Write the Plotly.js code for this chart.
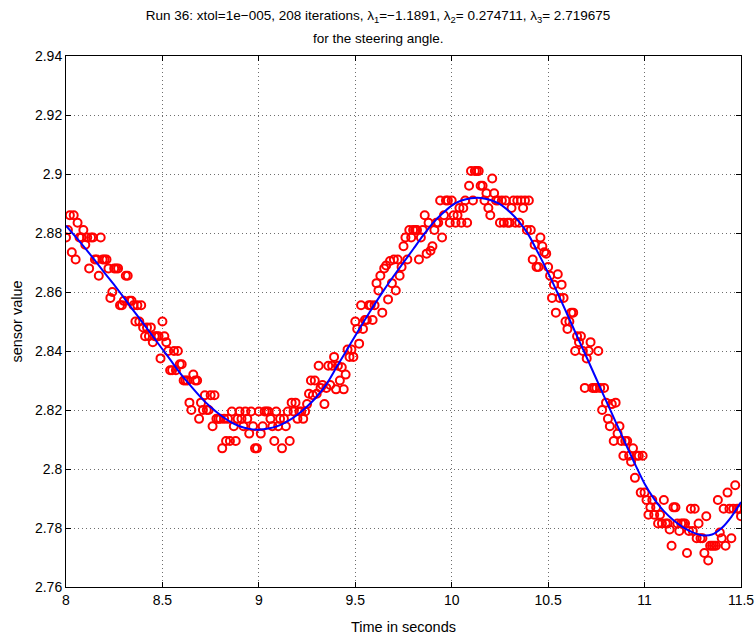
<!DOCTYPE html>
<html>
<head>
<meta charset="utf-8">
<script src="https://cdn.plot.ly/plotly-3.0.1.min.js"></script>
<style>
  html, body { margin: 0; padding: 0; background: #ffffff; }
  #chart { width: 756px; height: 637px; }
</style>
</head>
<body>
<div id="chart"></div>
<script>
// ---- Data ----
const titleLine1 = "Run 36: xtol=1e\u2212005, 208 iterations, \u03bb<sub>1</sub>=\u22121.1891, \u03bb<sub>2</sub>= 0.274711, \u03bb<sub>3</sub>= 2.719675";
const titleLine2 = "for the steering angle.";
const xLabel = "Time in seconds";
const yLabel = "sensor value";

// measured sensor samples (time in s)
const sensorTime = [
  8.00,8.01,8.02,8.03,8.04,8.05,8.06,8.07,8.08,8.09,
  8.10,8.11,8.12,8.13,8.14,8.15,8.16,8.17,8.18,8.19,
  8.20,8.21,8.22,8.23,8.24,8.25,8.26,8.27,8.28,8.29,
  8.30,8.31,8.32,8.33,8.34,8.35,8.36,8.37,8.38,8.39,
  8.40,8.41,8.42,8.43,8.44,8.45,8.46,8.47,8.48,8.49,
  8.50,8.51,8.52,8.53,8.54,8.55,8.56,8.57,8.58,8.59,
  8.60,8.61,8.62,8.63,8.64,8.65,8.66,8.67,8.68,8.69,
  8.70,8.71,8.72,8.73,8.74,8.75,8.76,8.77,8.78,8.79,
  8.80,8.81,8.82,8.83,8.84,8.85,8.86,8.87,8.88,8.89,
  8.90,8.91,8.92,8.93,8.94,8.95,8.96,8.97,8.98,8.99,
  9.00,9.01,9.02,9.03,9.04,9.05,9.06,9.07,9.08,9.09,
  9.10,9.11,9.12,9.13,9.14,9.15,9.16,9.17,9.18,9.19,
  9.20,9.21,9.22,9.23,9.24,9.25,9.26,9.27,9.28,9.29,
  9.30,9.31,9.32,9.33,9.34,9.35,9.36,9.37,9.38,9.39,
  9.40,9.41,9.42,9.43,9.44,9.45,9.46,9.47,9.48,9.49,
  9.50,9.51,9.52,9.53,9.54,9.55,9.56,9.57,9.58,9.59,
  9.60,9.61,9.62,9.63,9.64,9.65,9.66,9.67,9.68,9.69,
  9.70,9.71,9.72,9.73,9.74,9.75,9.76,9.77,9.78,9.79,
  9.80,9.81,9.82,9.83,9.84,9.85,9.86,9.87,9.88,9.89,
  9.90,9.91,9.92,9.93,9.94,9.95,9.96,9.97,9.98,9.99,
  10.00,10.01,10.02,10.03,10.04,10.05,10.06,10.07,10.08,10.09,
  10.10,10.11,10.12,10.13,10.14,10.15,10.16,10.17,10.18,10.19,
  10.20,10.21,10.22,10.23,10.24,10.25,10.26,10.27,10.28,10.29,
  10.30,10.31,10.32,10.33,10.34,10.35,10.36,10.37,10.38,10.39,
  10.40,10.41,10.42,10.43,10.44,10.45,10.46,10.47,10.48,10.49,
  10.50,10.51,10.52,10.53,10.54,10.55,10.56,10.57,10.58,10.59,
  10.60,10.61,10.62,10.63,10.64,10.65,10.66,10.67,10.68,10.69,
  10.70,10.71,10.72,10.73,10.74,10.75,10.76,10.77,10.78,10.79,
  10.80,10.81,10.82,10.83,10.84,10.85,10.86,10.87,10.88,10.89,
  10.90,10.91,10.92,10.93,10.94,10.95,10.96,10.97,10.98,10.99,
  11.00,11.01,11.02,11.03,11.04,11.05,11.06,11.07,11.08,11.09,
  11.10,11.11,11.12,11.13,11.14,11.15,11.16,11.17,11.18,11.19,
  11.20,11.21,11.22,11.23,11.24,11.25,11.26,11.27,11.28,11.29,
  11.30,11.31,11.32,11.33,11.34,11.35,11.36,11.37,11.38,11.39,
  11.40,11.41,11.42,11.43,11.44,11.45,11.46,11.47,11.48,11.49,
  11.50
];

const sensorValue = [
  2.8785,2.8810,2.8860,2.8735,2.8860,2.8710,2.8835,2.8785,2.8785,2.8810,
  2.8760,2.8785,2.8680,2.8785,2.8785,2.8710,2.8710,2.8655,2.8785,2.8710,
  2.8710,2.8710,2.8680,2.8580,2.8600,2.8680,2.8680,2.8680,2.8555,2.8555,
  2.8570,2.8655,2.8655,2.8570,2.8570,2.8555,2.8500,2.8555,2.8500,2.8555,
  2.8480,2.8450,2.8480,2.8450,2.8480,2.8430,2.8450,2.8450,2.8450,2.8375,
  2.8500,2.8450,2.8430,2.8400,2.8335,2.8335,2.8400,2.8335,2.8400,2.8355,
  2.8355,2.8300,2.8300,2.8300,2.8225,2.8200,2.8320,2.8300,2.8300,2.8170,
  2.8225,2.8200,2.8250,2.8200,2.8200,2.8250,2.8145,2.8250,2.8170,2.8170,
  2.8170,2.8070,2.8170,2.8095,2.8170,2.8095,2.8195,2.8145,2.8095,2.8170,
  2.8195,2.8170,2.8145,2.8195,2.8170,2.8120,2.8195,2.8145,2.8070,2.8070,
  2.8195,2.8120,2.8145,2.8195,2.8195,2.8195,2.8170,2.8145,2.8095,2.8195,
  2.8145,2.8170,2.8070,2.8170,2.8145,2.8195,2.8095,2.8225,2.8195,2.8225,
  2.8170,2.8195,2.8195,2.8170,2.8195,2.8220,2.8255,2.8300,2.8250,2.8300,
  2.8255,2.8350,2.8275,2.8285,2.8220,2.8275,2.8350,2.8285,2.8350,2.8380,
  2.8270,2.8350,2.8300,2.8345,2.8270,2.8320,2.8405,2.8380,2.8405,2.8380,
  2.8500,2.8475,2.8425,2.8555,2.8475,2.8505,2.8505,2.8555,2.8555,2.8505,
  2.8555,2.8630,2.8605,2.8655,2.8530,2.8680,2.8690,2.8575,2.8705,2.8630,
  2.8710,2.8605,2.8710,2.8655,2.8685,2.8755,2.8785,2.8710,2.8810,2.8785,
  2.8810,2.8810,2.8810,2.8710,2.8785,2.8810,2.8860,2.8730,2.8835,2.8740,
  2.8755,2.8810,2.8835,2.8835,2.8910,2.8785,2.8860,2.8910,2.8910,2.8835,
  2.8910,2.8860,2.8835,2.8860,2.8885,2.8835,2.8885,2.8910,2.8835,2.8960,
  2.9010,2.8910,2.9010,2.9010,2.9010,2.8960,2.8960,2.8910,2.8935,2.8885,
  2.8860,2.8985,2.8935,2.8910,2.8910,2.8835,2.8910,2.8835,2.8910,2.8835,
  2.8835,2.8885,2.8910,2.8835,2.8910,2.8835,2.8910,2.8885,2.8910,2.8810,
  2.8910,2.8810,2.8710,2.8760,2.8685,2.8685,2.8785,2.8755,2.8735,2.8730,
  2.8685,2.8655,2.8580,2.8625,2.8530,2.8660,2.8580,2.8625,2.8580,2.8500,
  2.8475,2.8500,2.8530,2.8530,2.8400,2.8450,2.8430,2.8450,2.8400,2.8275,
  2.8375,2.8400,2.8430,2.8275,2.8275,2.8275,2.8400,2.8275,2.8200,2.8275,
  2.8225,2.8170,2.8145,2.8220,2.8095,2.8225,2.8120,2.8145,2.8095,2.8045,
  2.8095,2.8095,2.8045,2.8025,2.8070,2.7970,2.8045,2.8045,2.7920,2.8045,
  2.7920,2.7895,2.7845,2.7870,2.7895,2.7845,2.7870,2.7815,2.7845,2.7815,
  2.7895,2.7815,2.7815,2.7795,2.7740,2.7870,2.7870,2.7815,2.7790,2.7815,
  2.7815,2.7815,2.7715,2.7790,2.7865,2.7790,2.7865,2.7765,2.7815,2.7765,
  2.7765,2.7715,2.7840,2.7690,2.7740,2.7740,2.7740,2.7740,2.7895,2.7785,
  2.7765,2.7865,2.7740,2.7920,2.7865,2.7765,2.7865,2.7945,2.7865,2.7865,
  2.7840
];

// fitted curve
const fitTime = [
  8.00,8.05,8.10,8.15,8.20,8.25,8.30,8.35,8.40,8.45,
  8.50,8.55,8.60,8.65,8.70,8.75,8.80,8.85,8.90,8.95,
  9.00,9.05,9.10,9.15,9.20,9.25,9.30,9.35,9.40,9.45,
  9.50,9.55,9.60,9.65,9.70,9.75,9.80,9.85,9.90,9.95,
  10.00,10.05,10.10,10.15,10.20,10.25,10.30,10.35,10.40,10.45,
  10.50,10.55,10.60,10.65,10.70,10.75,10.80,10.85,10.90,10.95,
  11.00,11.05,11.10,11.15,11.20,11.25,11.30,11.35,11.40,11.45,
  11.50
];
const fitValue = [
  2.8825,2.8787,2.8748,2.8707,2.8665,2.8624,2.8581,2.8537,2.8494,2.8450,
  2.8406,2.8362,2.8318,2.8279,2.8242,2.8210,2.8183,2.8161,2.8145,2.8136,
  2.8133,2.8137,2.8146,2.8162,2.8184,2.8212,2.8245,2.8287,2.8342,2.8397,
  2.8452,2.8506,2.8558,2.8608,2.8655,2.8700,2.8745,2.8790,2.8832,2.8865,
  2.8893,2.8910,2.8918,2.8919,2.8912,2.8898,2.8872,2.8838,2.8792,2.8730,
  2.8665,2.8595,2.8523,2.8450,2.8378,2.8305,2.8232,2.8160,2.8088,2.8017,
  2.7950,2.7898,2.7857,2.7826,2.7802,2.7785,2.7775,2.7778,2.7800,2.7838,
  2.7888
];

const xRange = [8, 11.5];
const yRange = [2.76, 2.94];

// ---- Plot ----
const FONT = '"Liberation Sans", Arial, Helvetica, sans-serif';

const traces = [
  {
    x: sensorTime, y: sensorValue, type: 'scatter', mode: 'markers',
    marker: { symbol: 'circle-open', size: 8, color: '#ff0000', line: { width: 2, color: '#ff0000' } },
    hoverinfo: 'x+y', showlegend: false
  },
  {
    x: fitTime, y: fitValue, type: 'scatter', mode: 'lines',
    line: { color: '#0000ff', width: 2, shape: 'spline', smoothing: 0.6 },
    hoverinfo: 'x+y', showlegend: false
  }
];

const axisCommon = {
  showgrid: true, gridcolor: '#6e6e6e', gridwidth: 1, griddash: '1px,3px',
  zeroline: false, showline: true, linecolor: '#000000', linewidth: 1,
  mirror: 'ticks', ticks: 'inside', ticklen: 5, tickwidth: 1, tickcolor: '#000000',
  tickfont: { family: FONT, size: 14, color: '#000000' }
};

const layout = {
  width: 756, height: 637,
  margin: { l: 66, r: 15, t: 56, b: 50, pad: 0 },
  paper_bgcolor: '#ffffff', plot_bgcolor: '#ffffff',
  font: { family: FONT, size: 14, color: '#000000' },
  title: {
    text: titleLine1, x: 0.5, xref: 'container', xanchor: 'center',
    y: 1 - 15 / 637, yref: 'container', yanchor: 'middle',
    font: { family: FONT, size: 13.5, color: '#000000' }
  },
  annotations: [{
    text: titleLine2, xref: 'paper', yref: 'paper',
    x: (378 - 66) / 675, y: 1 + (56 - 38) / 531, xanchor: 'center', yanchor: 'middle',
    showarrow: false, font: { family: FONT, size: 13.5, color: '#000000' }
  }],
  xaxis: Object.assign({}, axisCommon, {
    range: xRange, tick0: 8, dtick: 0.5,
    title: { text: xLabel, font: { family: FONT, size: 14.5, color: '#000000' }, standoff: 15 }
  }),
  yaxis: Object.assign({}, axisCommon, {
    range: yRange, tick0: 2.76, dtick: 0.02,
    title: { text: yLabel, font: { family: FONT, size: 14.5, color: '#000000' }, standoff: 8 }
  }),
  showlegend: false
};

Plotly.newPlot('chart', traces, layout, { displayModeBar: false, staticPlot: true });
</script>
</body>
</html>
